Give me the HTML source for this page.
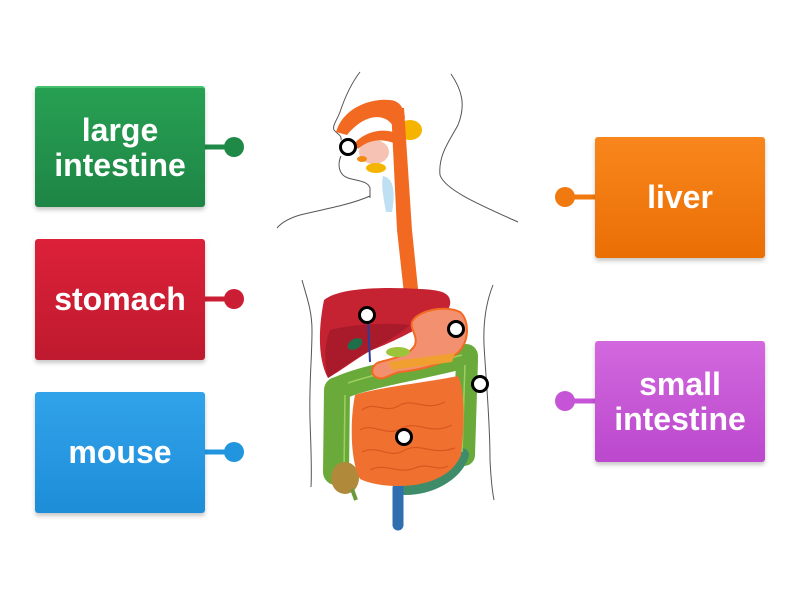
<!DOCTYPE html>
<html><head><meta charset="utf-8">
<style>
html,body{margin:0;padding:0;background:#fff;}
body{width:800px;height:600px;position:relative;overflow:hidden;font-family:"Liberation Sans","DejaVu Sans",sans-serif;}
.box{position:absolute;width:170px;height:121px;border-radius:3px;color:#fff;font-weight:bold;font-size:32px;line-height:35px;display:flex;align-items:center;justify-content:center;text-align:center;box-shadow:0 3px 4px rgba(0,0,0,0.22);}
.g{left:35px;top:86px;background:linear-gradient(#27a053,#1e8545);border-top:2px solid #45c06d;height:119px;}
.r{left:35px;top:239px;background:linear-gradient(#dc2139,#bf1a2f);}
.b{left:35px;top:392px;background:linear-gradient(#31a3ea,#1d8dd8);}
.o{left:595px;top:137px;background:linear-gradient(#f8861c,#ea6f05);}
.p{left:595px;top:341px;background:linear-gradient(#d268de,#bb48cd);}
svg{position:absolute;left:0;top:0;}
</style></head><body>
<svg width="800" height="600" viewBox="0 0 800 600">
<!-- connectors -->
<g stroke-width="5">
<line x1="204" y1="147" x2="230" y2="147" stroke="#1f8a48"/>
<line x1="204" y1="299" x2="230" y2="299" stroke="#cb1d34"/>
<line x1="204" y1="452" x2="230" y2="452" stroke="#2196df"/>
<line x1="570" y1="197" x2="596" y2="197" stroke="#f07a10"/>
<line x1="570" y1="401" x2="596" y2="401" stroke="#c654d6"/>
</g>
<circle cx="234" cy="147" r="10" fill="#1f8a48"/>
<circle cx="234" cy="299" r="10" fill="#cb1d34"/>
<circle cx="234" cy="452" r="10" fill="#2196df"/>
<circle cx="565" cy="197" r="10" fill="#f07a10"/>
<circle cx="565" cy="401" r="10" fill="#c654d6"/>

<!-- body outline -->
<g fill="none" stroke="#555" stroke-width="1">
<path d="M360,72 C350,85 344,100 340,112 C337,120 332,126 334,130 C337,134 342,135 341,140"/>
<path d="M341,156 C337,165 339,175 348,178 C358,181 368,181 370,188 L370,198"/>
<path d="M370,196 C350,205 320,210 300,215 C290,218 282,222 277,228"/>
<path d="M451,74 C462,90 466,105 458,125 C450,140 438,155 440,175 C445,190 480,205 518,222"/>
<path d="M302,280 C306,295 312,310 312,330 C312,360 309,380 310,420 C311,450 312,470 311,487"/>
<path d="M493,285 C487,300 483,320 484,345 C486,380 490,420 490,460 C491,480 493,495 494,500"/>
</g>

<!-- head organs -->
<ellipse cx="374" cy="152" rx="15" ry="12" fill="#f5c2b4"/>
<ellipse cx="410" cy="130" rx="12" ry="10" fill="#f5b400"/>
<ellipse cx="376" cy="168" rx="10" ry="5" fill="#f5b400"/>
<ellipse cx="362" cy="159" rx="5" ry="3" fill="#f28a10"/>
<path d="M383,176 C393,178 396,190 392,212 L386,212 C383,195 381,185 383,176 Z" fill="#bfe0f2"/>
<path d="M336,132 C343,108 370,98 390,100 C400,101 404,108 405,118 L393,126 C385,113 365,113 347,135 Z" fill="#f26a22"/>
<path d="M354,144 C363,133 380,128 393,132 L394,143 C380,138 368,140 358,149 Z" fill="#f26a22"/>
<path d="M391,108 L404,108 L412,230 L421,318 L407,321 L397,230 Z" fill="#f26a22"/>

<!-- liver -->
<path d="M324,300 C340,287 385,287 420,289 C440,290 452,292 450,305 C446,318 430,322 415,330 C400,338 385,345 372,350 C360,356 345,368 328,378 C318,360 318,330 324,300 Z" fill="#c52232"/>
<path d="M330,330 C350,325 380,322 410,325 C395,338 380,345 368,352 C355,358 343,368 328,378 C324,362 324,345 330,330 Z" fill="#a91b2a"/>
<ellipse cx="355" cy="344" rx="8" ry="5" transform="rotate(-30 355 344)" fill="#1e6e4a"/>
<path d="M368,318 L370,362" stroke="#2a3f9a" stroke-width="2" fill="none"/>

<!-- large intestine -->
<g fill="none" stroke-linecap="round">
<path d="M340,388 C365,376 420,368 466,356" stroke="#6aaa3a" stroke-width="24"/>
<path d="M337,390 L336,472" stroke="#6aaa3a" stroke-width="26"/>
<path d="M467,360 L464,455" stroke="#6aaa3a" stroke-width="22"/>
<path d="M462,455 C455,475 430,488 405,488" stroke="#3f8c6a" stroke-width="14"/>
<path d="M398,488 L398,525" stroke="#2f6fb0" stroke-width="11"/>
</g>
<g fill="none" stroke="#9ed060" stroke-width="1.5">
<path d="M345,395 L344,470"/>
<path d="M348,383 C380,372 420,366 462,355"/>
<path d="M465,365 L462,452"/>
</g>
<ellipse cx="345" cy="478" rx="14" ry="16" fill="#b08a3a"/>
<path d="M352,489 L356,500" stroke="#6a9a3a" stroke-width="4"/>

<!-- stomach -->
<path d="M412,322 C418,310 445,305 460,312 C470,320 470,345 455,355 C440,365 420,370 400,372 C390,374 385,380 378,378 C370,376 370,365 380,362 C395,358 410,355 415,345 C418,335 410,330 412,322 Z" fill="#f39070" stroke="#f26a22" stroke-width="2"/>
<path d="M388,362 L455,353 L452,362 L392,370 Z" fill="#f0a030"/>
<ellipse cx="398" cy="352" rx="12" ry="5" fill="#9cc43a"/>

<!-- small intestine -->
<path d="M355,395 C380,387 430,382 458,376 C466,392 464,430 461,455 C455,470 440,480 420,484 C400,488 375,486 360,479 C350,460 350,420 355,395 Z" fill="#f07030"/>
<g fill="none" stroke="#d9561e" stroke-width="1.2">
<path d="M362,410 C375,400 385,415 400,405 C415,398 425,412 445,402"/>
<path d="M360,430 C372,422 388,438 402,428 C418,420 430,436 452,425"/>
<path d="M362,452 C378,444 390,460 405,450 C420,442 432,456 455,448"/>
<path d="M370,470 C385,462 398,475 415,468 C428,462 438,472 448,466"/>
</g>

<!-- target circles -->
<g fill="#fff" stroke="#000" stroke-width="3">
<circle cx="348" cy="147" r="7.5"/>
<circle cx="367" cy="315" r="7.5"/>
<circle cx="456" cy="329" r="7.5"/>
<circle cx="480" cy="384" r="7.5"/>
<circle cx="404" cy="437" r="7.5"/>
</g>
</svg>

<div class="box g">large<br>intestine</div>
<div class="box r">stomach</div>
<div class="box b">mouse</div>
<div class="box o">liver</div>
<div class="box p">small<br>intestine</div>
</body></html>
